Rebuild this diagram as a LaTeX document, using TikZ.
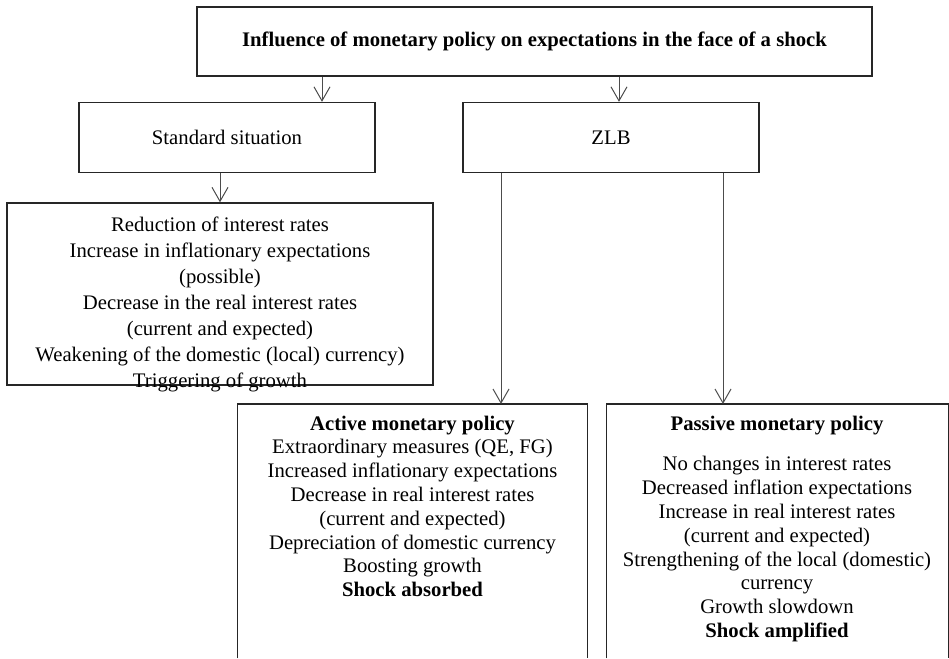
\documentclass[tikz,border=0pt]{standalone}
\usepackage{fontspec}
\setmainfont{Liberation Serif}
\usetikzlibrary{arrows.meta}

\begin{document}
\begin{tikzpicture}[x=1pt,y=-1pt,>={Straight Barb[length=14pt,width=16pt]}]
    \tikzstyle{box}=[draw=black!85,line width=1.3pt,inner sep=0pt,align=center,font=\fontsize{20.7}{26}\selectfont]
    \tikzstyle{frame}=[draw=black!85,line width=1.3pt]
    \tikzstyle{arr}=[->,draw=black!70,line width=1pt]
    \tikzstyle{list}=[inner sep=0pt,align=center,font=\fontsize{20.7}{23.8}\selectfont]

    \useasboundingbox (0,0) rectangle (949,658);

    % Draw the top node
    \node[box,minimum width=675pt,minimum height=69pt] (top) at (534.5,41.5)
        {\textbf{Influence of monetary policy on expectations in the face of a shock}};

    % Draw the two cases
    \node[box,minimum width=296pt,minimum height=70pt] (std) at (227,137.5) {Standard situation};
    \node[box,minimum width=296pt,minimum height=70pt] (zlb) at (611,137.5) {ZLB};

    % Draw the standard outcome (text runs into the lower border)
    \node[box,minimum width=426pt,minimum height=182pt] (effects) at (220,294) {};
    \node[list,font=\fontsize{20.7}{26}\selectfont,anchor=north] (effects-text) at (220,216.5)
        {Reduction of interest rates\\
         Increase in inflationary expectations\\
         (possible)\\
         Decrease in the real interest rates\\
         (current and expected)\\
         Weakening of the domestic (local) currency)\\
         Triggering of growth};

    % Draw the ZLB outcomes, open at the bottom
    \node[minimum width=349pt,minimum height=254pt,inner sep=0pt,anchor=north] (active) at (412.5,404) {};
    \node[minimum width=341pt,minimum height=254pt,inner sep=0pt,anchor=north] (passive) at (777.5,404) {};
    \draw[frame] (active.south west) |- (active.north east) -- (active.south east);
    \draw[frame] (passive.south west) |- (passive.north east) -- (passive.south east);

    \node[list,anchor=north] (active-text) at (412.5,415.5)
        {\textbf{Active monetary policy}\\
         Extraordinary measures (QE, FG)\\
         Increased inflationary expectations\\
         Decrease in real interest rates\\
         (current and expected)\\
         Depreciation of domestic currency\\
         Boosting growth\\
         \textbf{Shock absorbed}};
    \node[list,anchor=north] (passive-text) at (777,415.5)
        {\textbf{Passive monetary policy}\\[17pt]
         No changes in interest rates\\
         Decreased inflation expectations\\
         Increase in real interest rates\\
         (current and expected)\\
         Strengthening of the local (domestic)\\
         currency\\
         Growth slowdown\\
         \textbf{Shock amplified}};

    % Connect the top node with the two cases
    \draw[arr] ([xshift=95pt]std.north |- top.south) -- ([xshift=95pt]std.north);
    \draw[arr] ([xshift=8pt]zlb.north |- top.south) -- ([xshift=8pt]zlb.north);

    % Connect every case with its outcome
    \draw[arr] (effects.north |- std.south) -- (effects.north);
    \draw[arr] ([xshift=-110pt]zlb.south) -- ([xshift=-110pt]zlb.south |- active.north);
    \draw[arr] ([xshift=112pt]zlb.south) -- ([xshift=112pt]zlb.south |- passive.north);
\end{tikzpicture}
\end{document}
